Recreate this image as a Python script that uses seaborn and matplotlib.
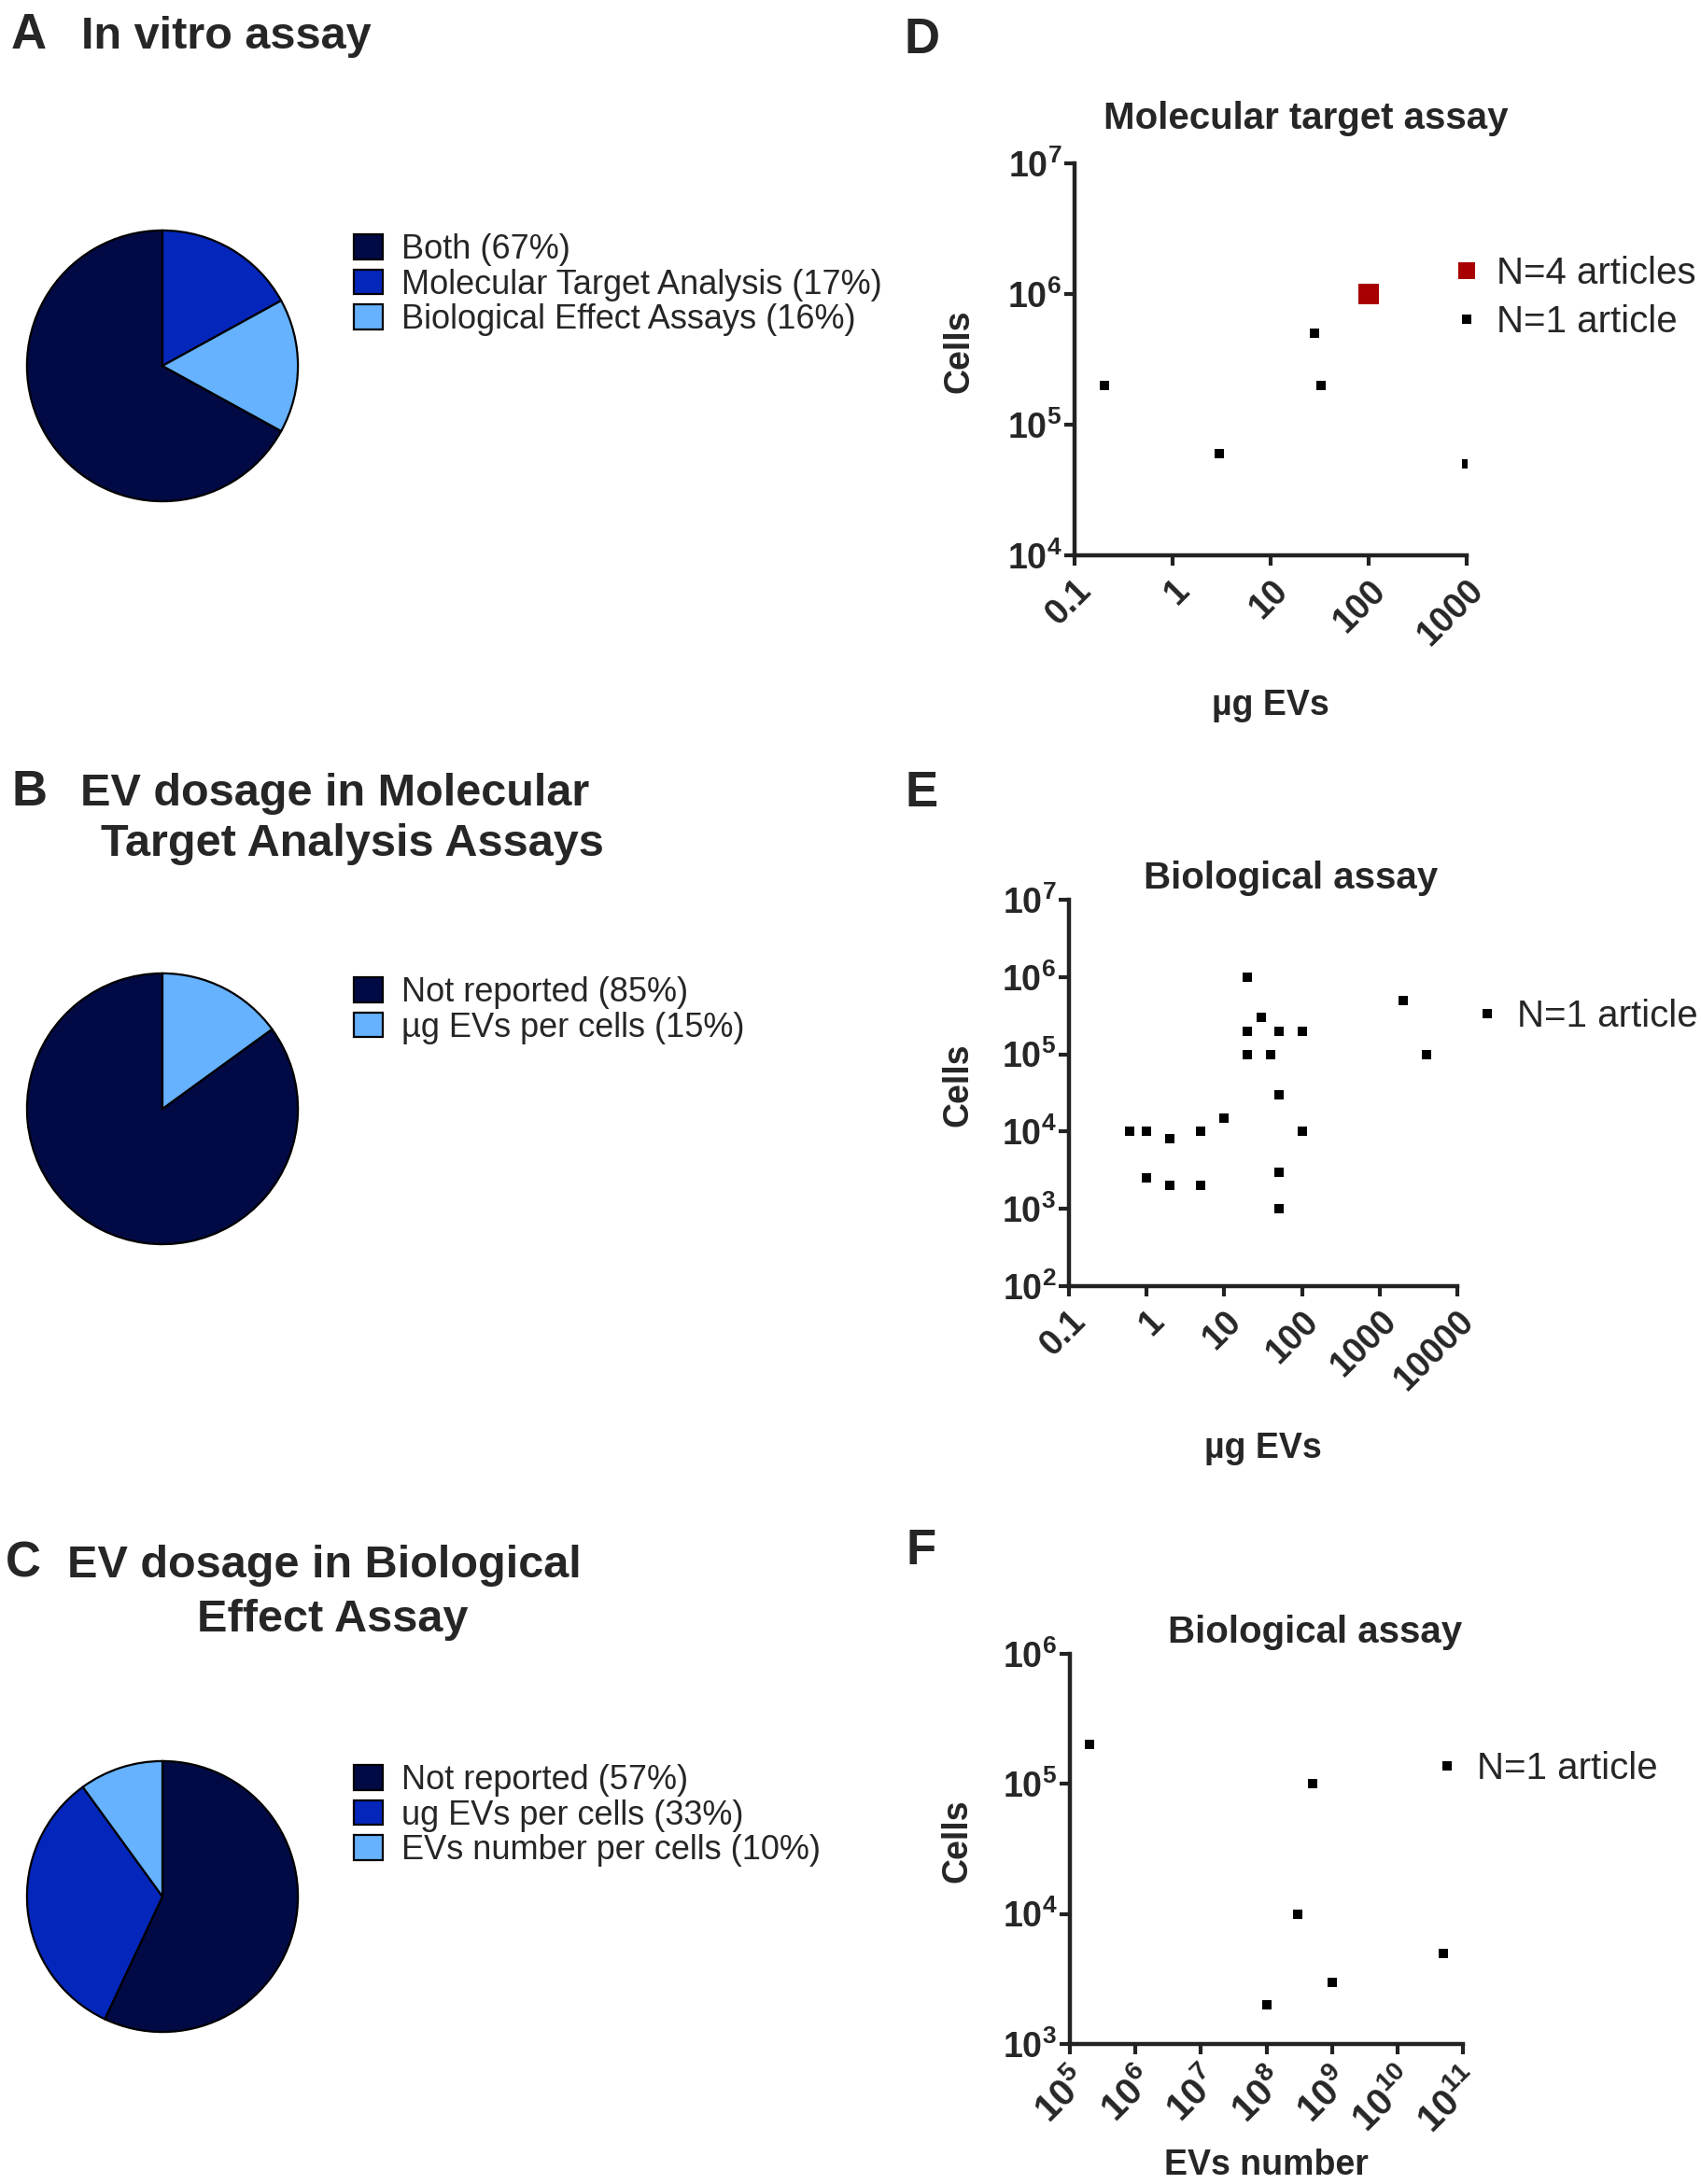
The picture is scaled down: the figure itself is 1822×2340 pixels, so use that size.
import numpy as np
import pandas as pd
import matplotlib
matplotlib.use('Agg')
import matplotlib.pyplot as plt
import seaborn as sns
from matplotlib.lines import Line2D
from matplotlib.ticker import NullLocator

sns.set_theme(style='ticks')
plt.rcParams['font.family'] = ['Liberation Sans', 'DejaVu Sans']
plt.rcParams['mathtext.fontset'] = 'custom'
plt.rcParams['mathtext.rm'] = 'Liberation Sans'
plt.rcParams['mathtext.bf'] = 'Liberation Sans:bold'

W, H = 1822, 2340

# ---- pie data ----
invitro_labels = ['Both (67%)', 'Molecular Target Analysis (17%)', 'Biological Effect Assays (16%)']
invitro_values = [67, 17, 16]
mol_labels = ['Not reported (85%)', 'µg EVs per cells (15%)']
mol_values = [85, 15]
bio_labels = ['Not reported (57%)', 'ug EVs per cells (33%)', 'EVs number per cells (10%)']
bio_values = [57, 33, 10]

# ---- scatter data ----
# D: molecular target assay
mol_ug = [0.2, 3, 28, 33, 1000]
mol_cells = [2e5, 6e4, 5e5, 2e5, 5e4]
mol4_ug = [100]
mol4_cells = [1e6]

# E: biological assay (ug)
bio_ug = [0.6, 1, 1, 2, 2, 5, 5, 10, 20, 20, 20, 30, 40, 50, 50, 50, 50, 100, 100, 2000, 4000]
bio_cells = [1e4, 1e4, 2.5e3, 8e3, 2e3, 1e4, 2e3, 1.5e4, 1e6, 2e5, 1e5, 3e5, 1e5, 2e5,
             3e4, 3e3, 1e3, 2e5, 1e4, 5e5, 1e5]

# F: biological assay (EV number)
bio_num = [2e5, 5e8, 3e8, 1e8, 1e9, 5e10]
bio_num_cells = [2e5, 1e5, 1e4, 2e3, 3e3, 5e3]

ug_ticklabels_d = ['0.1', '1', '10', '100', '1000']
ug_ticklabels_e = ['0.1', '1', '10', '100', '1000', '10000']
num_exponents = [5, 6, 7, 8, 9, 10, 11]

DARK = '#020a45'
MID = '#0526bb'
LIGHT = '#66b2ff'
RED = '#a80000'

fig = plt.figure(figsize=(W / 100, H / 100), dpi=100)


def px(x, y):
    return x / W, 1 - y / H


def pie_panel(top, values, labels, colors, start):
    ax = fig.add_axes([26 / W, 1 - (top + 296) / H, 296 / W, 296 / H])
    wedges, _ = ax.pie(values, colors=colors, startangle=start, counterclock=False,
                       wedgeprops=dict(edgecolor='black', linewidth=1.6))
    ax.set_xlim(-1.02, 1.02)
    ax.set_ylim(-1.02, 1.02)
    ax.set_aspect('equal')
    ax.legend(wedges, labels, loc='upper left', bbox_to_anchor=px(379, top + 6),
              bbox_transform=fig.transFigure, frameon=False, fontsize=26,
              handlelength=0.86, handleheight=0.75, handletextpad=0.55,
              labelspacing=0.07, borderpad=0, borderaxespad=0)
    return ax


pie_panel(244, invitro_values, invitro_labels, [DARK, MID, LIGHT], 90 + 3.6 * invitro_values[0])
pie_panel(1040, mol_values, mol_labels, [DARK, LIGHT], 90 + 3.6 * mol_values[0])
pie_panel(1884, bio_values, bio_labels, [DARK, MID, LIGHT], 90)

# panel titles (left column)
fig.text(*px(12, 52), 'A', fontsize=38, weight='bold', va='baseline')
fig.text(*px(87, 52), 'In vitro assay', fontsize=35, weight='bold', va='baseline')
fig.text(*px(12, 863), 'B', fontsize=38, weight='bold', va='baseline')
fig.text(*px(86, 863), 'EV dosage in Molecular', fontsize=35, weight='bold', va='baseline')
fig.text(*px(108, 917), 'Target Analysis Assays', fontsize=35, weight='bold', va='baseline')
fig.text(*px(6, 1690), 'C', fontsize=38, weight='bold', va='baseline')
fig.text(*px(72, 1690), 'EV dosage in Biological', fontsize=35, weight='bold', va='baseline')
fig.text(*px(211, 1748), 'Effect Assay', fontsize=35, weight='bold', va='baseline')

fig.text(*px(968, 57), 'D', fontsize=38, weight='bold', va='baseline')
fig.text(*px(970, 864), 'E', fontsize=38, weight='bold', va='baseline')
fig.text(*px(971, 1676), 'F', fontsize=38, weight='bold', va='baseline')


def scatter_axes(left, right, top, bottom):
    ax = fig.add_axes([left / W, 1 - bottom / H, (right - left) / W, (bottom - top) / H])
    ax.set_xscale('log')
    ax.set_yscale('log')
    sns.despine(ax=ax)
    for s in ['left', 'bottom']:
        ax.spines[s].set_linewidth(3.2)
        ax.spines[s].set_color('#222222')
    ax.tick_params(direction='out', length=8, width=3, color='#222222', labelsize=27, pad=2)
    ax.tick_params(axis='x', pad=6)
    ax.xaxis.set_minor_locator(NullLocator())
    ax.yaxis.set_minor_locator(NullLocator())
    return ax


def set_ylog_ticks(ax, lo, hi):
    ex = np.arange(lo, hi + 1)
    ax.set_ylim(10.0 ** lo, 10.0 ** hi)
    ax.set_yticks(10.0 ** ex)
    ax.set_yticklabels([r'$\mathbf{10^{%d}}$' % e for e in ex])


def set_x_ticks(ax, values, labels, size=27):
    ax.set_xlim(values[0], values[-1])
    ax.set_xticks(values)
    ax.set_xticklabels(labels, rotation=45, ha='right', rotation_mode='anchor',
                       fontweight='bold', fontsize=size)


def dot_legend(ax, handles, labels, x, y, spacing):
    ax.legend(handles, labels, loc='upper left', bbox_to_anchor=px(x, y),
              bbox_transform=fig.transFigure, frameon=False, fontsize=29,
              handlelength=0.5, handletextpad=0.55, labelspacing=spacing,
              borderpad=0, borderaxespad=0)


black_handle = Line2D([], [], marker='s', ls='none', color='black', ms=6.8, mew=0)

# ---- D ----
axD = scatter_axes(1151, 1571, 175, 595)
sns.scatterplot(x=mol_ug, y=mol_cells, ax=axD, marker='s', s=48, color='black', linewidth=0)
sns.scatterplot(x=mol4_ug, y=mol4_cells, ax=axD, marker='s', s=270, color=RED, linewidth=0)
set_ylog_ticks(axD, 4, 7)
set_x_ticks(axD, [float(t) for t in ug_ticklabels_d], ug_ticklabels_d)
red_handle = Line2D([], [], marker='s', ls='none', color=RED, ms=13, mew=0)
dot_legend(axD, [red_handle, black_handle], ['N=4 articles', 'N=1 article'], 1561, 274, 0.35)
axD.set_ylabel('Cells', fontsize=27, weight='bold', va='center')
axD.yaxis.set_label_coords(-0.295, 0.52)
axD.set_xlabel('µg EVs', fontsize=27, weight='bold', va='center')
axD.xaxis.set_label_coords(0.5, -0.384)
fig.text(*px(1399, 138), 'Molecular target assay', fontsize=29, weight='bold',
         ha='center', va='baseline')

# ---- E ----
axE = scatter_axes(1145, 1561, 964, 1378)
sns.scatterplot(x=bio_ug, y=bio_cells, ax=axE, marker='s', s=48, color='black', linewidth=0)
set_ylog_ticks(axE, 2, 7)
set_x_ticks(axE, [float(t) for t in ug_ticklabels_e], ug_ticklabels_e)
dot_legend(axE, [black_handle], ['N=1 article'], 1583, 1070, 0.5)
axE.set_ylabel('Cells', fontsize=27, weight='bold', va='center')
axE.yaxis.set_label_coords(-0.284, 0.52)
axE.set_xlabel('µg EVs', fontsize=27, weight='bold', va='center')
axE.xaxis.set_label_coords(0.5, -0.42)
fig.text(*px(1383, 952), 'Biological assay', fontsize=29, weight='bold',
         ha='center', va='baseline')

# ---- F ----
axF = scatter_axes(1146, 1567, 1772, 2190)
sns.scatterplot(x=bio_num, y=bio_num_cells, ax=axF, marker='s', s=48, color='black', linewidth=0)
set_ylog_ticks(axF, 3, 6)
set_x_ticks(axF, [10.0 ** e for e in num_exponents],
            [r'$\mathbf{10^{%d}}$' % e for e in num_exponents], size=29)
dot_legend(axF, [black_handle], ['N=1 article'], 1540, 1876, 0.5)
axF.set_ylabel('Cells', fontsize=27, weight='bold', va='center')
axF.yaxis.set_label_coords(-0.286, 0.52)
axF.set_xlabel('EVs number', fontsize=27, weight='bold', va='center')
axF.xaxis.set_label_coords(0.5, -0.311)
fig.text(*px(1409, 1760), 'Biological assay', fontsize=29, weight='bold',
         ha='center', va='baseline')

fig.savefig('out.png', dpi=100, facecolor='white')
